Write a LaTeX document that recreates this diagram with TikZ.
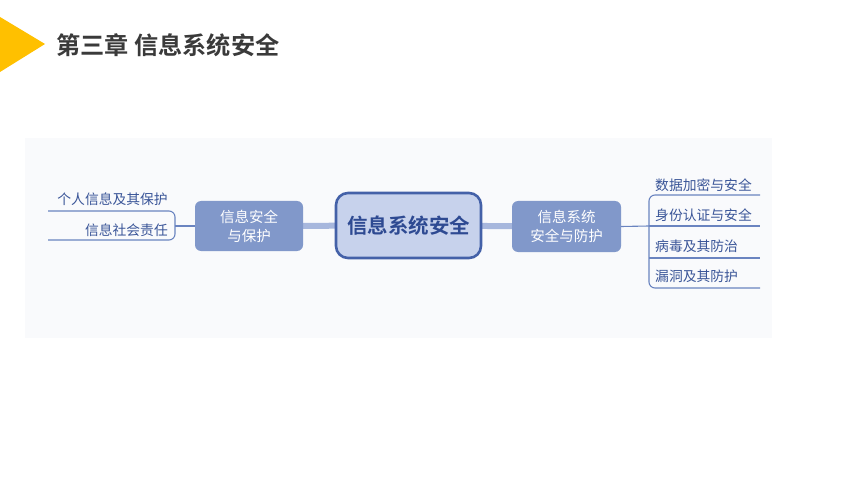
\documentclass[tikz,border=0pt]{standalone}
\usepackage{fontspec}
\usetikzlibrary{backgrounds}
\setmainfont{Noto Sans CJK SC}
\newfontfamily\cjkbold{Noto Sans CJK SC Bold}
\definecolor{ttl}{HTML}{3A3A3A}
\definecolor{tri}{HTML}{FFC000}
\definecolor{bgph}{HTML}{F9FAFC}
\definecolor{midfill}{HTML}{8198CA}
\definecolor{cfill}{HTML}{C7D2EC}
\definecolor{cdraw}{HTML}{4461A8}
\definecolor{ctext}{HTML}{2E4A92}
\definecolor{conn}{HTML}{A7B7DD}
\definecolor{bline}{HTML}{6A84C0}
\definecolor{btext}{HTML}{3A5598}
\tikzset{
  midbox/.style={rectangle, rounded corners=6pt, fill=midfill, text=white,
    minimum width=108pt, minimum height=50pt, inner sep=0pt, align=center,
    font=\fontsize{14.5}{19}\selectfont},
  centerbox/.style={rectangle, rounded corners=12pt, fill=cfill, draw=cdraw,
    line width=2.6pt, text=ctext, minimum width=145pt, minimum height=65pt,
    inner sep=0pt, font=\fontsize{20.5}{24}\selectfont\cjkbold},
  thickconn/.style={draw=conn, line width=6pt},
  branch/.style={draw=bline, line width=1.1pt},
  leaf/.style={text=btext, inner sep=0pt, font=\fontsize{13.8}{16}\selectfont},
}
\begin{document}
\begin{tikzpicture}[x=1pt,y=-1pt]
\useasboundingbox (0,0) rectangle (860,484);
\begin{scope}[on background layer]
\fill[white] (0,0) rectangle (860,484);
\fill[bgph] (25,138) rectangle (772,338);
\end{scope}
% title
\fill[tri] (0,17) -- (45,44) -- (0,72) -- cycle;
\node[anchor=west, text=ttl, inner sep=0pt, font=\fontsize{24.2}{28}\selectfont\cjkbold] (title) at (56,45) {第三章 信息系统安全};
% nodes
\node[centerbox] (C) at (408.5,225.5) {信息系统安全};
\node[midbox] (L) at (249,226) {信息安全\\与保护};
\node[midbox, minimum width=109pt, minimum height=51pt] (R) at (566.5,226.5) {信息系统\\安全与防护};
\begin{scope}[on background layer]
\draw[thickconn] (L.center) -- (C.center);
\draw[thickconn] (C.center) -- (R.center);
\end{scope}
% left branches
\coordinate (lj) at (175,226);
\coordinate (la) at (48,211);
\coordinate (lb) at (48,240);
\draw[branch] (L.west) -- (lj);
\draw[branch, rounded corners=6pt] (la) -- (175,211) -- (175,240) -- (lb);
\node[leaf, anchor=east] (l1) at (168,199) {个人信息及其保护};
\node[leaf, anchor=east] (l2) at (168,230) {信息社会责任};
% right branches
\coordinate (rj) at (649,226);
\coordinate (ra) at (760,195);
\coordinate (rb) at (760,226);
\coordinate (rc) at (760,258);
\coordinate (rd) at (760,288);
\draw[branch] (R.east) -- (rj);
\draw[branch, rounded corners=6pt] (ra) -- (649,195) -- (649,288) -- (rd);
\draw[branch] (rj) -- (rb);
\draw[branch] (649,258) -- (rc);
\node[leaf, anchor=west] (r1) at (655,185) {数据加密与安全};
\node[leaf, anchor=west] (r2) at (655,215) {身份认证与安全};
\node[leaf, anchor=west] (r3) at (655,246) {病毒及其防治};
\node[leaf, anchor=west] (r4) at (655,276) {漏洞及其防护};
\end{tikzpicture}
\end{document}
